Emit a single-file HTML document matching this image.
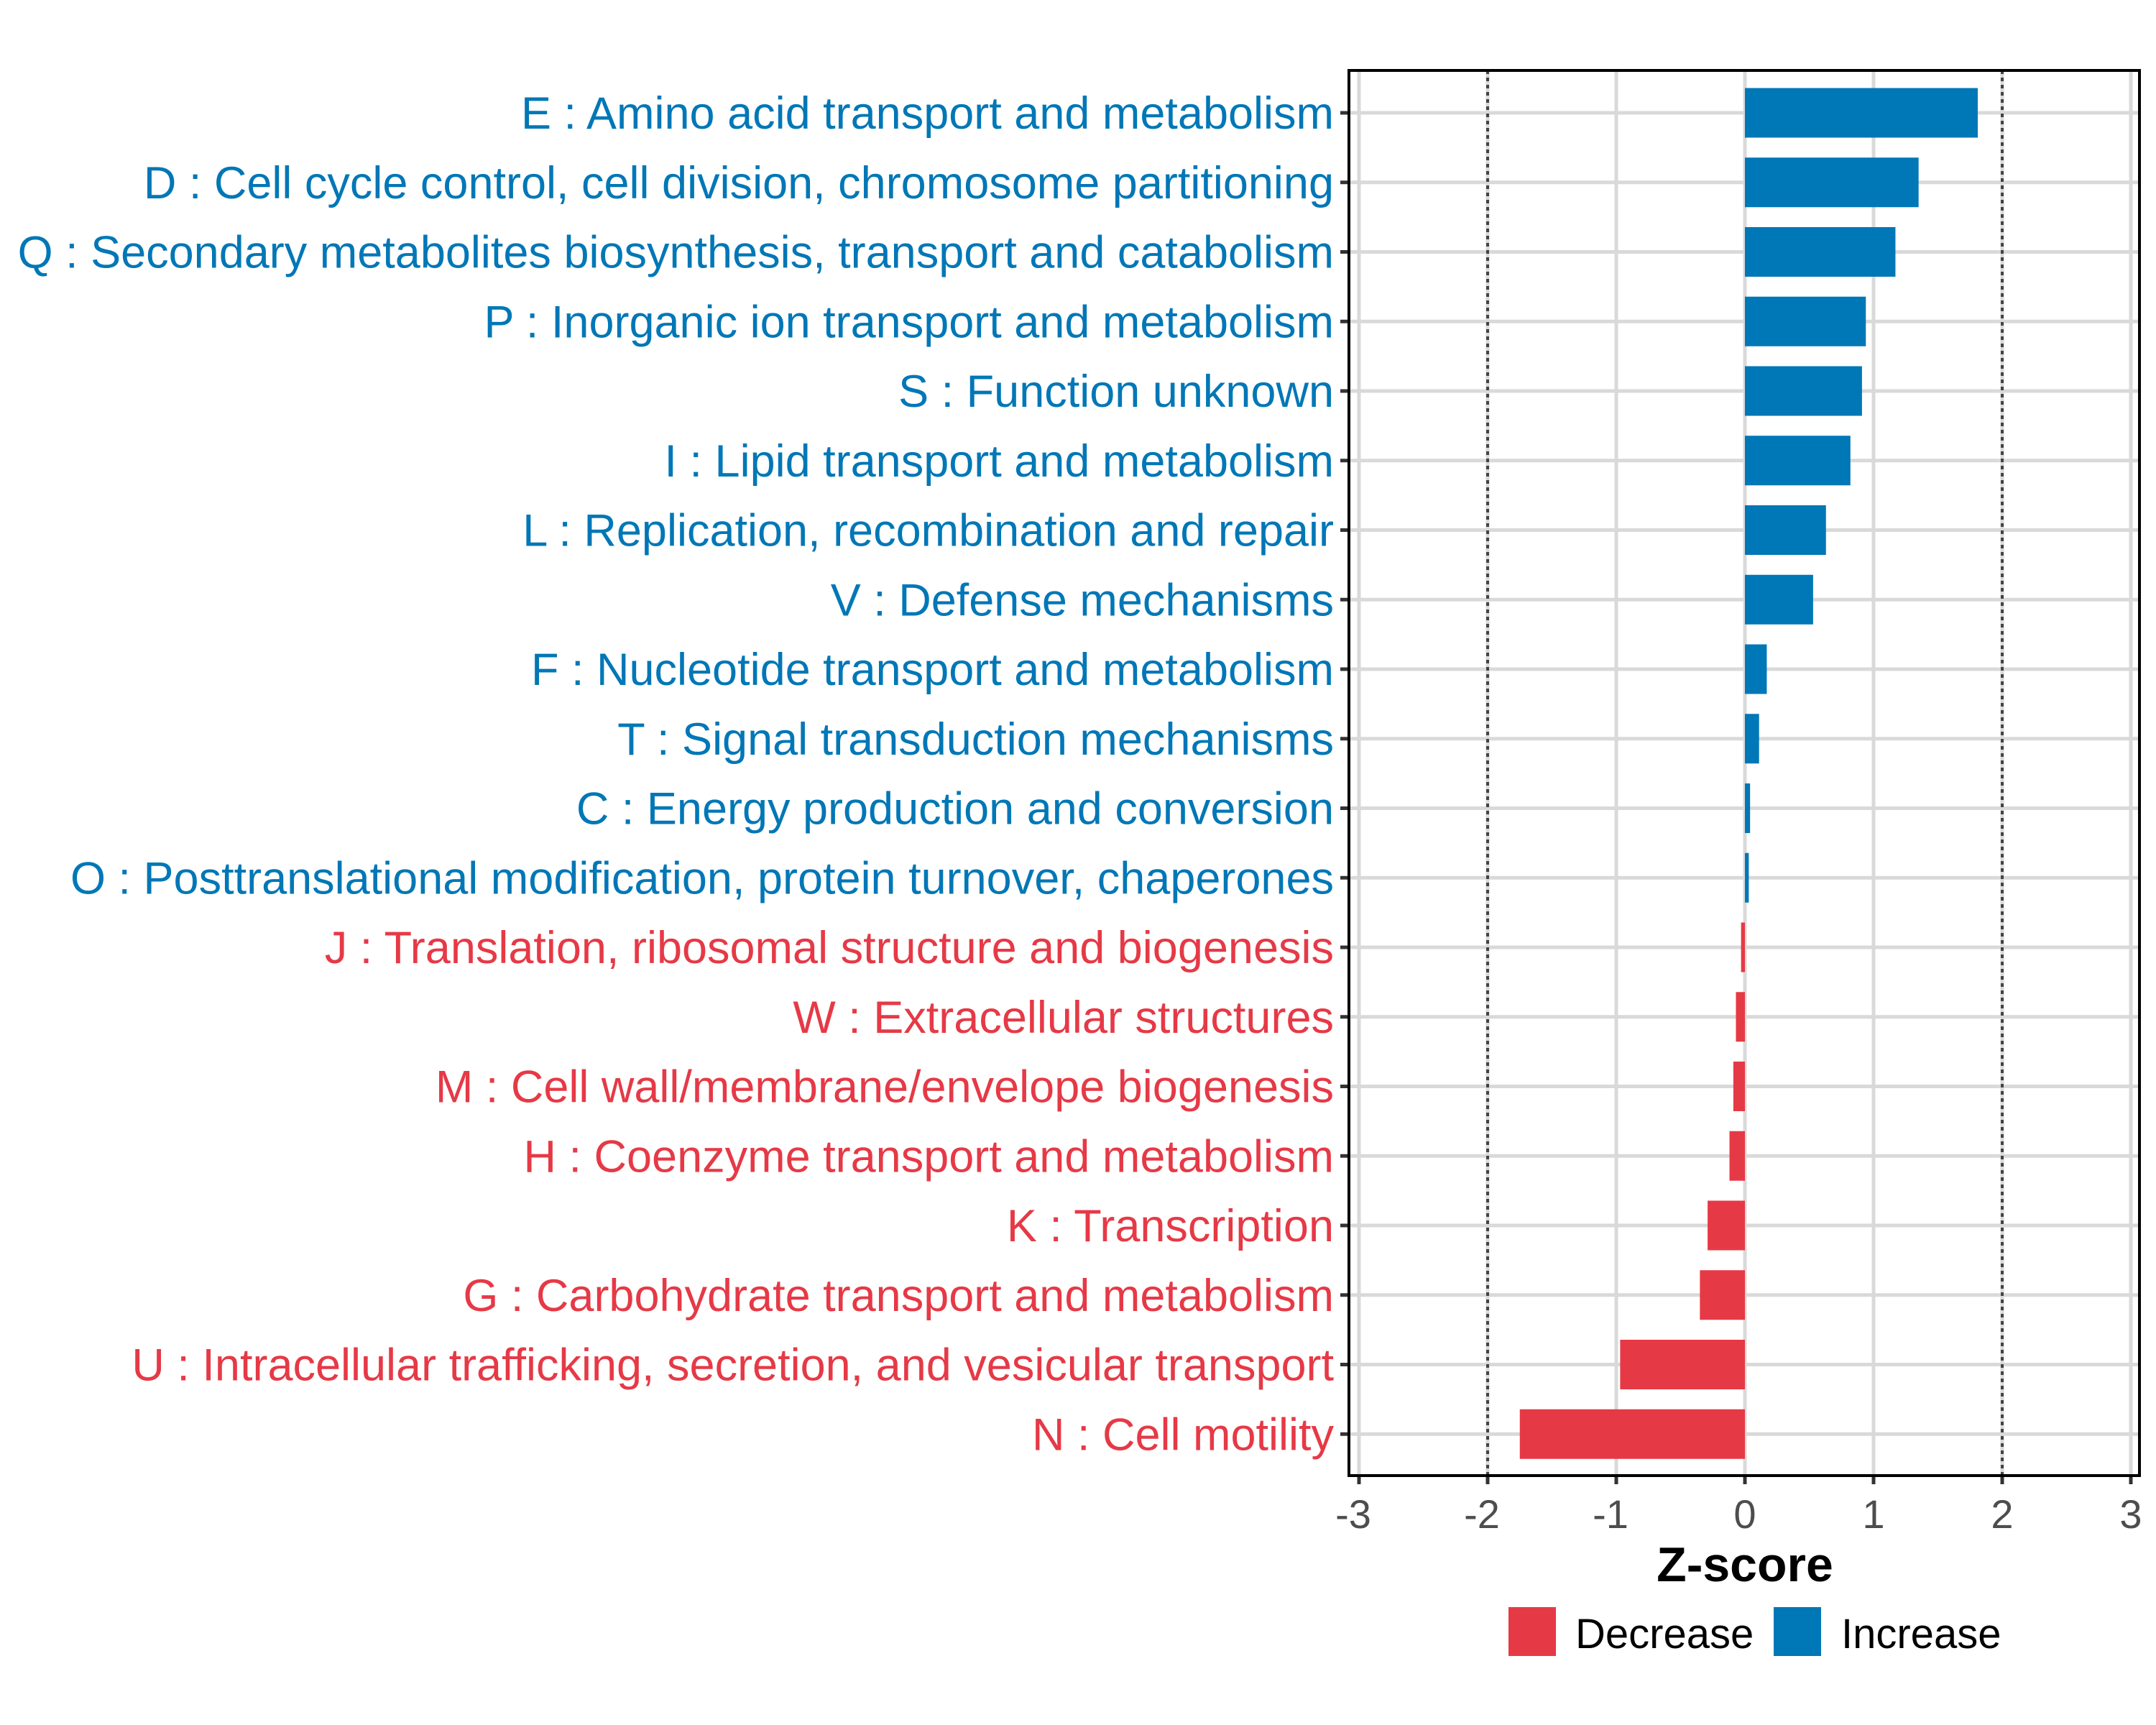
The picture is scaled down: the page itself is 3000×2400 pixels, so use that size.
<!DOCTYPE html>
<html><head><meta charset="utf-8"><style>
html,body{margin:0;padding:0;background:#fff;}
svg{display:block;font-family:"Liberation Sans",Arial,sans-serif;}
</style></head><body>
<svg id="chart" width="3000" height="2400" viewBox="0 0 3000 2400" xmlns="http://www.w3.org/2000/svg">
<rect width="3000" height="2400" fill="#fff"/>
<g id="grid"></g><g id="bars"></g><g id="axes"></g><g id="labels"></g>
<text x="2428" y="2200" font-size="68" font-weight="bold" text-anchor="middle" fill="#000">Z-score</text>
<g>
<rect x="2099" y="2236" width="66" height="68" fill="#E63946"/>
<text x="2192" y="2293" font-size="58" fill="#000">Decrease</text>
<rect x="2468" y="2236" width="66" height="68" fill="#0077B6"/>
<text x="2562" y="2293" font-size="58" fill="#000">Increase</text>
</g>
</svg>
<script>
const categories = ["E : Amino acid transport and metabolism","D : Cell cycle control, cell division, chromosome partitioning","Q : Secondary metabolites biosynthesis, transport and catabolism","P : Inorganic ion transport and metabolism","S : Function unknown","I : Lipid transport and metabolism","L : Replication, recombination and repair","V : Defense mechanisms","F : Nucleotide transport and metabolism","T : Signal transduction mechanisms","C : Energy production and conversion","O : Posttranslational modification, protein turnover, chaperones","J : Translation, ribosomal structure and biogenesis","W : Extracellular structures","M : Cell wall/membrane/envelope biogenesis","H : Coenzyme transport and metabolism","K : Transcription","G : Carbohydrate transport and metabolism","U : Intracellular trafficking, secretion, and vesicular transport","N : Cell motility"];
const zscores = [1.81,1.35,1.17,0.94,0.91,0.82,0.63,0.53,0.17,0.11,0.04,0.03,-0.03,-0.07,-0.09,-0.12,-0.29,-0.35,-0.97,-1.75];
const xTicks = [-3,-2,-1,0,1,2,3];
const thresholds = [-2,2];

const NS="http://www.w3.org/2000/svg";
const L=1877,R=2977,T=98,B=2053;
const x0=2428, unit=179, y0=157, step=96.75, barH=69;
const RED="#E63946", BLUE="#0077B6";
function xs(v){return x0+v*unit;}
function ys(i){return y0+i*step;}
function mk(tag,attrs,parent){const e=document.createElementNS(NS,tag);for(const k in attrs)e.setAttribute(k,attrs[k]);parent.appendChild(e);return e;}
const grid=document.getElementById('grid'),bars=document.getElementById('bars'),axes=document.getElementById('axes'),labels=document.getElementById('labels');

xTicks.forEach(t=>{
  const g=mk('line',{x1:xs(t),x2:xs(t),y1:T,y2:B,stroke:'#d9d9d9','stroke-width':5},grid);
  
  
});
categories.forEach((c,i)=>{
  const g=mk('line',{x1:L,x2:R,y1:ys(i),y2:ys(i),stroke:'#d9d9d9','stroke-width':5},grid);
  
  
});
thresholds.forEach(t=>{
  const d=mk('line',{x1:xs(t),x2:xs(t),y1:T,y2:B,stroke:'#444','stroke-width':4,'stroke-dasharray':'5 5'},grid);
  
  
});
categories.forEach((c,i)=>{
  const v=zscores[i];
  const col=v>=0?BLUE:RED;
  const r=mk('rect',{x:Math.min(xs(0),xs(v)),y:ys(i)-barH/2,width:Math.abs(xs(v)-xs(0)),height:barH,fill:col},bars);
  
  
  const tx=mk('text',{x:1856,y:ys(i)+22,'font-size':63,'text-anchor':'end',fill:col},labels);
  tx.textContent=c;
  
  
  const tk=mk('line',{x1:L-12,x2:L,y1:ys(i),y2:ys(i),stroke:'#333','stroke-width':5},axes);
  
  
});
xTicks.forEach(t=>{
  const tk=mk('line',{x1:xs(t),x2:xs(t),y1:B,y2:B+12,stroke:'#333','stroke-width':5},axes);
  
  
  const tl=mk('text',{x:xs(t)-(t<0?8:0),y:2126,'font-size':56,'text-anchor':'middle',fill:'#4d4d4d'},axes);
  tl.textContent=String(t);
  
  
});
const fr=mk('rect',{x:L,y:T,width:R-L,height:B-T,fill:'none',stroke:'#000','stroke-width':4},axes);


</script>
</body></html>
